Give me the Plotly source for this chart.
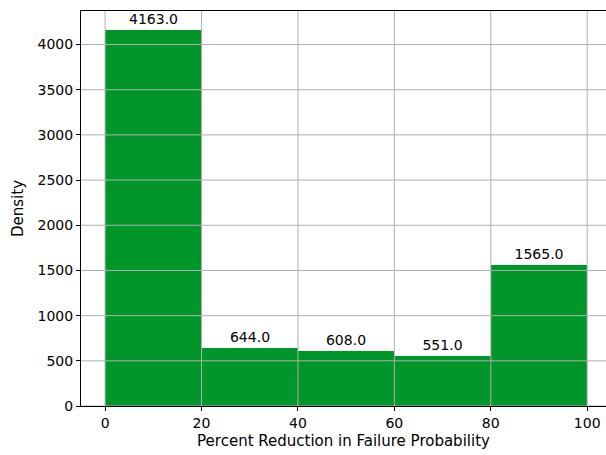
import plotly.graph_objects as go

bin_edges = [0, 20, 40, 60, 80, 100]
counts = [4163, 644, 608, 551, 1565]
y_ticks = [0, 500, 1000, 1500, 2000, 2500, 3000, 3500, 4000]
x_ticks = [0, 20, 40, 60, 80, 100]

centers = [(a + b) / 2 for a, b in zip(bin_edges[:-1], bin_edges[1:])]
widths = [b - a for a, b in zip(bin_edges[:-1], bin_edges[1:])]
labels = [f"{c:.1f}" for c in counts]

FONT = "DejaVu Sans"
GRID = "#b0b0b0"

fig = go.Figure(go.Bar(
    x=centers, y=counts, width=widths,
    marker=dict(color="#00962a", line=dict(width=0)),
    text=labels, textposition="outside",
    textfont=dict(family=FONT, size=14, color="black"),
    cliponaxis=False,
))

shapes = []
for t in y_ticks:
    shapes.append(dict(type="line", xref="paper", x0=0, x1=1, yref="y", y0=t, y1=t,
                       line=dict(color=GRID, width=1), layer="above"))
for t in x_ticks:
    shapes.append(dict(type="line", xref="x", x0=t, x1=t, yref="paper", y0=0, y1=1,
                       line=dict(color=GRID, width=1), layer="above"))

fig.update_layout(
    width=606, height=455,
    margin=dict(l=81, r=0, t=11, b=49, autoexpand=False),
    paper_bgcolor="white", plot_bgcolor="white",
    font=dict(family=FONT, size=14, color="black"),
    showlegend=False,
    bargap=0,
    shapes=shapes,
    xaxis=dict(
        range=[-5, 103.9], tickvals=x_ticks, ticks="outside", ticklen=4,
        tickcolor="black", showgrid=False, zeroline=False, automargin=False,
        showline=True, mirror=True, linecolor="black", linewidth=1,
        title=dict(text="Percent Reduction in Failure Probability", standoff=5,
                   font=dict(size=15)),
    ),
    yaxis=dict(
        range=[0, 4371.15], tickvals=y_ticks, ticks="outside", ticklen=4,
        tickcolor="black", showgrid=False, zeroline=False, automargin=False,
        showline=True, mirror=False, linecolor="black", linewidth=1,
        title=dict(text="Density", standoff=10, font=dict(size=15)),
    ),
)

fig.write_html(
    "out.html",
    config={"displayModeBar": False},
    post_script="document.body.style.margin='0';document.body.style.overflow='hidden';",
)
